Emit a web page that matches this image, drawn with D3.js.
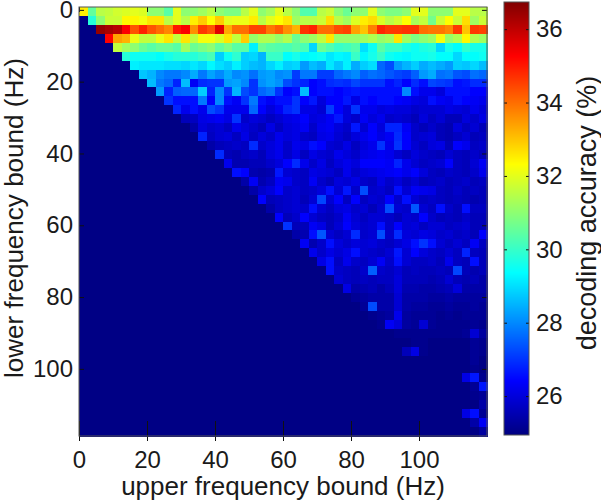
<!DOCTYPE html>
<html>
<head>
<meta charset="utf-8">
<script src="https://cdn.jsdelivr.net/npm/d3@7"></script>
<style>
  html, body { margin: 0; padding: 0; background: #fff; }
  svg { display: block; }
  text { font-family: "Liberation Sans", Arial, sans-serif; fill: #1a1a1a; }
</style>
</head>
<body>
<svg width="601" height="501"></svg>
<script>
// decoding accuracy (%), one list per lower bound, starting at the diagonal cell
const row00 = [32.5,30.5,31.5,31.6,31.8,31.9,32,31.9,31,31,30.4,32,31,31,31.2,31.5,31,30.8,30.8,31.5,32,31,31.3,32,31.5,31,30.3,30.3,31.5,31.7,31,30.6,31,31,32,31,30.8,30.8,31,32,32,31,31,31,32,32,31.5,31.5];
const row01 = [29.8,31,31.7,31.7,32.4,32.4,32.2,32.6,32.6,31.5,32,31.5,32.5,32.9,32.3,32.9,32,32.1,32.1,32.5,31.5,32,32.3,32.6,31.2,31.5,31.5,31.7,32.7,31.5,31.2,31.9,32.5,32.7,31.9,31.5,31.8,32.3,31.3,31.6,30.7,31.7,32.3,31.7,32.7,31.2,31.7];
const row02 = [36.5,36.3,36.1,35.3,34.3,34.9,34.3,34,33.7,35,35.3,33.6,34.6,34.3,35.6,33.3,34,34,34.5,34.5,33.9,34.2,33.6,33.2,34.7,34.9,34,34,34.4,34.5,33.4,33,33.8,34.8,34.6,34.6,34.7,34.7,34,33.9,33.9,33.7,34.6,33,34.6,34.5];
const row03 = [35.2,33.4,33.2,32.1,31.6,31.6,32.1,32.6,31.6,32.6,31.6,32.2,32.2,31.9,32.6,31.6,32.9,31.1,31.4,31.4,31.1,31.4,30.6,31,31.2,31.6,32.6,31.1,31.1,31.1,31.2,31.4,31.1,31.3,32.6,31.2,30.8,31,31.2,32.2,31.1,31.4,32.4,31.4,31.2];
const row04 = [31.6,31.2,31,30.6,30.4,30.6,30.6,30.4,31.2,30.6,30.8,31,30.5,30.8,30.4,30.4,29.2,30.6,30.4,30.3,30.2,30.4,30.2,28.9,30.6,30.3,30,30.1,30.3,29,29.5,30.4,30,30,29.7,29.5,29.7,29.8,28.9,29.6,29.4,29.9,29.6,29.6];
const row05 = [29.8,29.5,29.5,29.5,29.4,29.6,29.8,29.8,29.8,30,30.2,28.8,29.5,29.9,28.8,28.9,28.5,30,30,29.4,29.6,29.3,29.4,29.5,29.1,29.3,29.2,30,29.3,29.6,30,29.5,29.4,29.3,29.5,29.5,29.6,29.4,29.4,28.9,29.4,29.4,29.5];
const row06 = [29.2,29.1,29.1,29.1,29,29,28.9,29.1,28.9,29.3,29,28.8,29.2,28.8,28.6,28.5,28.9,29.2,28.8,28.9,28.2,28.6,28.4,29.1,28.7,29.2,28.4,28.8,29,27.6,27.3,28.2,28.5,28.8,28.4,28.6,28.4,28.2,28.8,28.7,28.9,28.6];
const row07 = [28.7,28.5,28,27.8,27.8,28,28.4,27.8,28.3,28,28.4,28,28.1,27.7,28.2,28.3,28,28.1,27.1,27.8,27.8,27.1,27.1,27.6,27.8,28,27.5,27.7,27.6,27.4,27.2,27.1,27.5,28.2,28.4,27.7,27.8,27.4,27.3,27.7,27.6];
const row08 = [28.6,27.8,27.6,26.8,28.6,26.3,26.9,27,27,28.2,28.3,28,27,28.1,28.3,28.1,27.3,27,26.8,26.4,26.5,26.9,27,26.9,27.2,27,27,27,26.6,26.8,26.4,26.9,26.6,27.2,27.1,27,26.6,26.7,26.9,26.9];
const row09 = [28.2,26.8,27.5,27.6,27.6,28.8,26.8,28,27,28.5,27.3,27,27.6,27.8,27,26.4,26.6,28.6,26.4,26.6,26.5,26.4,26.5,26.7,26.5,26.6,26.6,26.6,26.5,28,26.5,26.2,26.2,26,26.5,26.6,26.5,26.4,26.4];
const row10 = [27,26.6,26.6,26.6,27.8,26.4,28,26.5,26.3,27,27.8,26.5,26.3,26.5,26.6,27,26.4,26.7,26,26.4,26.4,26.7,26.1,26.6,26.4,26.5,26.5,26.4,26.3,26.1,26,26.6,26.3,26.2,26.5,26.4,26.3,26.2];
const row11 = [26.8,26.2,26.5,26.2,27.3,27,26.2,26.2,26.2,27.6,26.4,26,26.3,26.8,27,26.1,26.1,25.9,27.1,26.4,26,27,26.2,26.2,26,26.1,26,26,25.8,25.9,25.9,25.9,26.1,26,25.9,26.2,26];
const row12 = [25.6,25.7,26.1,26.2,26.3,26.1,27,25.8,26,25.9,25.7,25.9,26.1,26.2,26.4,26,26.1,26.3,26.7,26,25.8,26.3,26,26.2,25.8,25.9,25.8,25.6,26,25.7,25.9,25.6,25.6,26,25.8,26.1];
const row13 = [25.4,26,25.8,25.9,25.7,26.2,26,25.8,25.6,26.1,25.7,26,26.1,26.3,25.8,26.2,26.3,26,25.8,26.7,25.9,26.4,26,26.8,26.8,26.3,25.8,25.6,25.8,25.6,25.5,26,25.7,25.9,25.6];
const row14 = [26.8,25.7,25.9,26,25.7,26.1,25.7,26,25.8,26.2,26,26.1,25.8,25.7,26.1,26.2,25.9,25.7,26,26.2,26.4,26.1,26.3,26.9,26.4,25.8,25.9,26,25.6,25.5,25.7,25.9,25.6,25.7];
const row15 = [25.4,25.6,25.7,25.8,25.7,26.9,25.8,26,26.2,25.8,26.2,26.1,26.5,26.4,25.9,25.8,26.1,25.7,26,26.2,27,26.2,27,26.4,25.9,25.7,26,26.1,25.6,26.4,26.2,25.7,25.8];
const row16 = [26.9,25.6,25.5,25.7,25.8,25.6,26,26.2,25.8,26.1,25.7,26.1,25.9,25.8,26.2,26,25.8,26.1,26.2,26.3,26.2,25.9,25.7,26,25.8,25.7,25.6,25.9,25.7,25.6,25.8,25.6];
const row17 = [26.2,25.5,25.5,25.6,25.6,25.8,26,26.4,26.9,26.2,25.8,26.1,25.7,26,26.2,26,26.4,26.4,26.4,26.3,26.8,26.2,25.9,25.7,25.8,25.9,26.4,25.7,25.6,25.9,26.3];
const row18 = [26.6,26.4,25.5,25.4,25.5,26.7,25.9,25.8,25.7,26.1,26,25.9,25.7,26.2,25.8,26,26.1,26.2,26.3,26.4,26.2,26.4,26,25.7,25.6,25.8,25.7,25.6,25.8,26.2];
const row19 = [25.4,26.3,25.5,25.7,26.3,26.2,25.8,25.7,26.3,25.8,25.6,26,25.9,26.1,25.8,25.7,26.1,25.8,26,25.7,25.9,25.6,25.7,25.8,25.6,25.7,25.8,25.6,25.7];
const row20 = [25.4,25.8,26,26.4,25.8,25.9,25.7,25.8,26,26.5,25.9,26.7,25.8,27.3,25.8,25.9,25.7,26.5,25.9,26.3,26.2,26.1,25.7,25.6,25.8,25.6,25.7,25.6];
const row21 = [26.4,25.6,25.7,25.8,25.9,25.6,25.9,27.2,25.9,26.4,25.7,26.4,25.7,25.9,25.8,26.4,25.8,26.5,25.9,25.7,25.8,25.7,25.6,25.7,25.6,25.5,25.6];
const row22 = [25.4,25.7,25.8,25.9,25.8,26.5,25.9,25.7,26,26.1,25.8,25.9,25.6,25.9,27.3,25.9,25.8,27.4,25.9,25.7,26.6,25.8,25.6,26.6,25.7,25.7];
const row23 = [26.4,25.6,25.8,26.4,25.9,25.7,25.6,25.8,26.3,25.9,25.7,25.9,25.9,25.8,25.6,25.9,25.8,26.4,25.8,25.6,25.7,25.6,25.8,25.6,25.6];
const row24 = [27,25.6,25.6,26.3,26.1,25.6,25.9,26.4,26,25.8,25.9,26.5,25.8,26.4,25.9,26,25.7,25.9,25.9,25.7,25.8,25.9,25.6,25.6];
const row25 = [25.4,25.5,26.5,27.4,25.9,25.7,25.9,26.9,25.8,25.9,27.3,25.8,26.9,26,25.9,26.1,26,25.8,25.9,25.7,25.8,25.6,26.4];
const row26 = [26.3,25.5,25.8,26.5,26,25.8,26,25.9,26,25.8,25.7,25.9,26.1,26.5,27,26.5,25.9,25.7,25.9,25.7,26.3,25.7];
const row27 = [26.2,25.8,26.1,25.9,26.1,26.6,25.9,25.8,25.7,25.9,26.7,25.9,26.4,26,25.8,25.7,25.9,25.7,26.8,25.7,25.6];
const row28 = [26.1,26.6,25.7,26.2,25.8,25.7,25.9,26.3,25.8,26.5,25.9,25.7,25.7,25.8,25.6,26.2,25.7,25.6,26.6,25.6];
const row29 = [26.6,25.8,25.7,25.6,25.8,27.5,25.8,25.7,25.9,25.6,25.7,25.6,25.6,25.7,25.6,27.2,25.6,25.5,25.6];
const row30 = [25.9,25.7,25.6,25.7,25.6,25.7,25.7,26,25.6,25.6,25.6,25.5,25.6,25.9,25.6,25.5,25.6,25.4];
const row31 = [26.1,25.4,25.5,25.6,25.4,25.6,26,25.5,25.5,25.4,25.4,25.5,25.6,26,25.4,25.4,25.4];
const row32 = [25.2,25.3,25.4,25.4,25.4,25.9,25.4,25.4,25.4,25.3,25.3,25.4,25.3,25.3,25.3,25.3];
const row33 = [25.2,27.3,25.4,25.4,25.9,25.4,25.3,25.3,25.2,25.2,25.3,25.2,25.2,25.3,25.2];
const row34 = [25.1,25.2,25.3,26.2,25.3,25.2,25.2,25.2,25.1,25.2,25.1,25.2,25.2,25.2];
const row35 = [25.1,26.3,26,25.3,25.2,25.9,25.2,25.1,25.1,25.1,25.1,25.2,25.1];
const row36 = [25,25.1,25.1,25.1,25.1,25.1,25.1,25.1,25.1,25.2,25.9,25.3];
const row37 = [25,25,25.1,25.1,25,25,25,25,25,25.2,25.1];
const row38 = [25.6,26.1,25.1,25,25,25,25,25,25.2,25.1];
const row39 = [25,25,25,25,25,25,25,25.2,25];
const row40 = [25,25,25,25,25,25,25.1,25];
const row41 = [25,25,25,25,26.1,26.7,25.1];
const row42 = [25,25,25,25,25.2,26.7];
const row43 = [25,25,25,25.1,25.2];
const row44 = [25,25,25,25.4];
const row45 = [26.1,26.5,25.2];
const row46 = [25.4,26.3];
const row47 = [25.3];

const accuracy = [
  row00, row01, row02, row03, row04, row05, row06, row07, row08, row09, row10, row11,
  row12, row13, row14, row15, row16, row17, row18, row19, row20, row21, row22, row23,
  row24, row25, row26, row27, row28, row29, row30, row31, row32, row33, row34, row35,
  row36, row37, row38, row39, row40, row41, row42, row43, row44, row45, row46, row47,
];
const floorValue = 25;

const freqTicks = [0, 20, 40, 60, 80, 100];
const colorTicks = [26, 28, 30, 32, 34, 36];
const colorDomain = [24.94, 36.74];
const jetStops = [0, 0.125, 0.375, 0.625, 0.875, 1];
const jetColors = ["#000080", "#0000ff", "#00ffff", "#ffff00", "#ff0000", "#800000"];

const area = { left: 79, right: 487, top: 7, bottom: 436 };
const barArea = { left: 504, right: 529, top: 2, bottom: 435 };

const svg = d3.select("svg");

svg
  .append("defs")
  .append("filter")
  .attr("id", "soft")
  .append("feGaussianBlur")
  .attr("stdDeviation", 0.7);

const scColor = d3
  .scaleLinear()
  .domain(jetStops.map((t) => colorDomain[0] + t * (colorDomain[1] - colorDomain[0])))
  .range(jetColors)
  .clamp(true);

const cellIdx = d3.range(accuracy.length);
const scCol = d3.scaleBand().domain(cellIdx).range([area.left, area.right]);
const scRow = d3.scaleBand().domain(cellIdx).range([area.top, area.bottom]);

const scX = d3.scaleLinear().domain([0, 120]).range([area.left, area.right]);
const scY = d3.scaleLinear().domain([-0.8, 118.7]).range([area.top, area.bottom]);
const scBar = d3.scaleLinear().domain(colorDomain).range([barArea.bottom, barArea.top]);

// lower triangle has no data, it stays at the floor colour
const cells = [];
cellIdx.forEach((r) => {
  cellIdx.forEach((c) => {
    const v = c >= r ? accuracy[r][c - r] : floorValue;
    cells.push({ r: r, c: c, v: v === undefined ? floorValue : v });
  });
});

svg
  .append("g")
  .attr("filter", "url(#soft)")
  .selectAll("rect")
  .data(cells)
  .enter()
  .append("rect")
  .attr("x", (d) => scCol(d.c))
  .attr("y", (d) => scRow(d.r))
  .attr("width", scCol.bandwidth() + 0.5)
  .attr("height", scRow.bandwidth() + 0.5)
  .attr("shape-rendering", "crispEdges")
  .style("fill", (d) => scColor(d.v));

// colorbar, one strip per pixel
const barValues = d3.range(barArea.top, barArea.bottom).map((y) => scBar.invert(y + 0.5));
svg
  .append("g")
  .selectAll("rect")
  .data(barValues)
  .enter()
  .append("rect")
  .attr("x", barArea.left)
  .attr("y", (d) => scBar(d) - 0.5)
  .attr("width", barArea.right - barArea.left)
  .attr("height", 1.2)
  .attr("shape-rendering", "crispEdges")
  .style("fill", (d) => scColor(d));

function drawAxis(axis, translate, showText) {
  const g = svg.append("g").attr("transform", translate).call(axis);
  g.select(".domain").remove();
  g.selectAll("line").attr("stroke", "#111").attr("stroke-width", 1);
  g.selectAll("text").style("font-size", "24px");
  if (!showText) g.selectAll("text").remove();
  return g;
}

const fmt = d3.format("d");

// bottom ticks are longer on the inside and also poke out of the frame
drawAxis(
  d3.axisBottom(scX).tickValues(freqTicks).tickFormat(fmt).tickSize(-15).tickPadding(15),
  `translate(0, ${area.bottom})`,
  true,
).selectAll("line").attr("y1", 5);
drawAxis(
  d3.axisTop(scX).tickValues(freqTicks).tickSize(-5),
  `translate(0, ${area.top})`,
  false,
);
drawAxis(
  d3.axisLeft(scY).tickValues(freqTicks).tickFormat(fmt).tickSize(-5).tickPadding(6),
  `translate(${area.left}, 0)`,
  true,
);
drawAxis(
  d3.axisRight(scY).tickValues(freqTicks).tickSize(-5),
  `translate(${area.right}, 0)`,
  false,
);

// colorbar ticks on both sides
drawAxis(
  d3.axisRight(scBar).tickValues(colorTicks).tickFormat(fmt).tickSize(-3).tickPadding(7),
  `translate(${barArea.right}, 0)`,
  true,
);
drawAxis(
  d3.axisLeft(scBar).tickValues(colorTicks).tickSize(-3),
  `translate(${barArea.left}, 0)`,
  false,
);

svg
  .append("rect")
  .attr("x", area.left)
  .attr("y", area.top)
  .attr("width", area.right - area.left)
  .attr("height", area.bottom - area.top)
  .style("fill", "none")
  .style("stroke", "#555")
  .style("stroke-width", 1);

svg
  .append("rect")
  .attr("x", barArea.left)
  .attr("y", barArea.top)
  .attr("width", barArea.right - barArea.left)
  .attr("height", barArea.bottom - barArea.top)
  .style("fill", "none")
  .style("stroke", "#555")
  .style("stroke-width", 1);

svg
  .append("text")
  .attr("x", 283)
  .attr("y", 495)
  .attr("text-anchor", "middle")
  .style("font-size", "26px")
  .text("upper frequency bound (Hz)");

svg
  .append("text")
  .attr("transform", "translate(23, 218) rotate(-90)")
  .attr("text-anchor", "middle")
  .attr("textLength", 320)
  .attr("lengthAdjust", "spacingAndGlyphs")
  .style("font-size", "25px")
  .text("lower frequency bound (Hz)");

svg
  .append("text")
  .attr("transform", "translate(596, 213) rotate(-90)")
  .attr("text-anchor", "middle")
  .style("font-size", "27px")
  .text("decoding accuracy (%)");
</script>
</body>
</html>
